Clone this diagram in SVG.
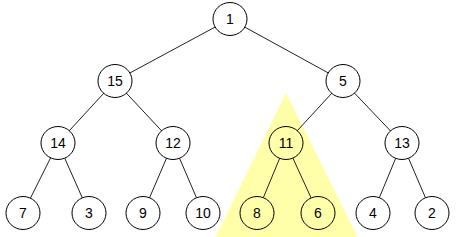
<svg xmlns="http://www.w3.org/2000/svg" width="466" height="237" viewBox="0 0 466 237">
<style>
.n ellipse{fill:#fff;stroke:#000;stroke-width:1}
.n.h ellipse{fill:#ffffaa}
.n text{font-family:"Liberation Sans",Arial,sans-serif;font-size:14px;fill:#000;text-anchor:middle;dominant-baseline:central}
#edges line{stroke:#222;stroke-width:1}
</style>
<rect width="466" height="237" fill="#fff"/>
<polygon id="highlight" points="286,93 215,238 358,238" fill="#ffffaa"/>
<g id="edges">
<line x1="230" y1="19" x2="115" y2="81"/>
<line x1="230" y1="19" x2="343" y2="81"/>
<line x1="115" y1="81" x2="58" y2="143"/>
<line x1="115" y1="81" x2="173" y2="143"/>
<line x1="343" y1="81" x2="286" y2="143"/>
<line x1="343" y1="81" x2="402" y2="143"/>
<line x1="58" y1="143" x2="23" y2="213"/>
<line x1="58" y1="143" x2="89" y2="213"/>
<line x1="173" y1="143" x2="143" y2="213"/>
<line x1="173" y1="143" x2="203" y2="213"/>
<line x1="286" y1="143" x2="257" y2="213"/>
<line x1="286" y1="143" x2="318" y2="213"/>
<line x1="402" y1="143" x2="373" y2="213"/>
<line x1="402" y1="143" x2="432" y2="213"/>
</g>
<g id="n1" class="n"><ellipse cx="230" cy="19" rx="17" ry="16.5"/><text x="230" y="19">1</text></g>
<g id="n15" class="n"><ellipse cx="115" cy="81" rx="17" ry="16.5"/><text x="115" y="81">15</text></g>
<g id="n5" class="n"><ellipse cx="343" cy="81" rx="17" ry="16.5"/><text x="343" y="81">5</text></g>
<g id="n14" class="n"><ellipse cx="58" cy="143" rx="17" ry="16.5"/><text x="58" y="143">14</text></g>
<g id="n12" class="n"><ellipse cx="173" cy="143" rx="17" ry="16.5"/><text x="173" y="143">12</text></g>
<g id="n11" class="n h"><ellipse cx="286" cy="143" rx="17" ry="16.5"/><text x="286" y="143">11</text></g>
<g id="n13" class="n"><ellipse cx="402" cy="143" rx="17" ry="16.5"/><text x="402" y="143">13</text></g>
<g id="n7" class="n"><ellipse cx="23" cy="213" rx="17" ry="16.5"/><text x="23" y="213">7</text></g>
<g id="n3" class="n"><ellipse cx="89" cy="213" rx="17" ry="16.5"/><text x="89" y="213">3</text></g>
<g id="n9" class="n"><ellipse cx="143" cy="213" rx="17" ry="16.5"/><text x="143" y="213">9</text></g>
<g id="n10" class="n"><ellipse cx="203" cy="213" rx="17" ry="16.5"/><text x="203" y="213">10</text></g>
<g id="n8" class="n h"><ellipse cx="257" cy="213" rx="17" ry="16.5"/><text x="257" y="213">8</text></g>
<g id="n6" class="n h"><ellipse cx="318" cy="213" rx="17" ry="16.5"/><text x="318" y="213">6</text></g>
<g id="n4" class="n"><ellipse cx="373" cy="213" rx="17" ry="16.5"/><text x="373" y="213">4</text></g>
<g id="n2" class="n"><ellipse cx="432" cy="213" rx="17" ry="16.5"/><text x="432" y="213">2</text></g>
</svg>
